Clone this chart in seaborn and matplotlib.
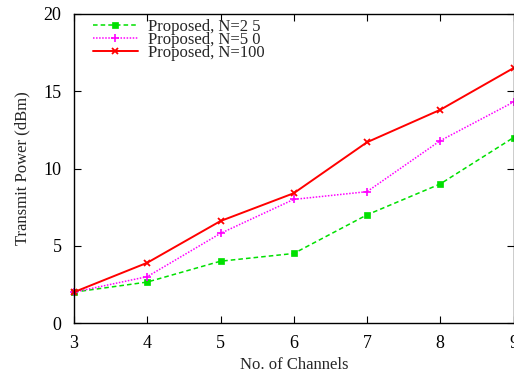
import matplotlib
matplotlib.use("Agg")
import matplotlib.pyplot as plt
import seaborn as sns
import pandas as pd

channels = [3, 4, 5, 6, 7, 8, 9]
power_n25 = [2.0, 2.65, 4.0, 4.5, 7.0, 9.0, 12.0]
power_n50 = [2.0, 3.0, 5.8, 8.0, 8.5, 11.8, 14.3]
power_n100 = [2.0, 3.9, 6.6, 8.4, 11.7, 13.8, 16.5]
series_labels = ["Proposed, N=2 5", "Proposed, N=5 0", "Proposed, N=100"]
x_ticks = [3, 4, 5, 6, 7, 8, 9]
y_ticks = [0, 5, 10, 15, 20]

sns.set_theme(style="ticks")
plt.rcParams["font.family"] = ["Liberation Serif", "DejaVu Serif"]

fig = plt.figure(figsize=(5.14, 3.74), dpi=100)
ax = fig.add_axes([74 / 514, 51 / 374, 439.5 / 514, 309 / 374])

styles = [
    dict(color="#00e000", linestyle=(0, (3, 2)), marker="s", markersize=4,
         markeredgecolor="#00e000", markeredgewidth=0.5, linewidth=1.1),
    dict(color="#ff00ff", linestyle=(0, (1, 1)), marker="+", markersize=6,
         markeredgecolor="#ff00ff", markeredgewidth=1.2, linewidth=1.1),
    dict(color="#ff0000", linestyle="-", marker="x", markersize=5,
         markeredgecolor="#ff0000", markeredgewidth=1.3, linewidth=1.4),
]
for values, label, st in zip([power_n25, power_n50, power_n100], series_labels, styles):
    df = pd.DataFrame({"x": channels, "y": values})
    sns.lineplot(data=df, x="x", y="y", ax=ax, label=label, clip_on=False, **st)

ax.set_xlim(3, 9)
ax.set_ylim(0, 20)
ax.set_xticks(x_ticks)
ax.set_yticks(y_ticks)
ax.tick_params(direction="in", top=True, right=True, length=5, width=0.8,
               labelsize=13, colors="black", pad=9)
for s in ax.spines.values():
    s.set_linewidth(1.0)
    s.set_color("black")
ax.set_xlabel("No. of Channels", fontsize=12, labelpad=3)
ax.set_ylabel("Transmit Power (dBm)", fontsize=12, labelpad=9)

leg = ax.legend(loc="upper left", frameon=False, fontsize=12, handlelength=2.7,
                labelspacing=-0.18, borderaxespad=0.0, borderpad=0.0,
                handletextpad=0.6, bbox_to_anchor=(0.043, 0.985))
for h in leg.legend_handles:
    h.set_markevery([1])

fig.savefig("out.png", dpi=100)
